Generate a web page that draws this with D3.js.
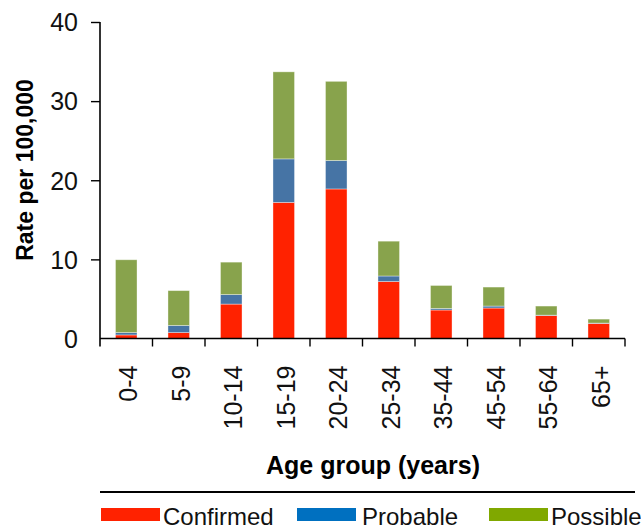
<!DOCTYPE html>
<html>
<head>
<meta charset="utf-8">
<script src="https://cdn.jsdelivr.net/npm/d3@7"></script>
<style>
  body { margin: 0; background: #fff; }
  svg { display: block; font-family: "Liberation Sans", Arial, sans-serif; }
</style>
</head>
<body>
<svg id="chart" width="641" height="531"></svg>
<script>
// ---- data ----
const ageGroups = ['0-4', '5-9', '10-14', '15-19', '20-24', '25-34', '35-44', '45-54', '55-64', '65+'];
const confirmed = [0.45, 0.75, 4.35, 17.2, 18.9, 7.2, 3.6, 3.85, 2.9, 1.9];
const probable  = [0.3, 0.9, 1.2, 5.5, 3.6, 0.7, 0.2, 0.25, 0.05, 0.05];
const possible  = [9.2, 4.4, 4.1, 11.0, 10.0, 4.4, 2.9, 2.4, 1.15, 0.5];
const yTicks = [0, 10, 20, 30, 40];
const seriesNames = ['Confirmed', 'Probable', 'Possible'];
const barColors = ['#ff2200', '#4674a5', '#88a34c'];
const legendColors = ['#ff2200', '#0070c0', '#80a800'];

const rows = ageGroups.map((g, i) => ({
  group: g, Confirmed: confirmed[i], Probable: probable[i], Possible: possible[i]
}));

const svg = d3.select('#chart');

const x = d3.scaleBand()
    .domain(ageGroups)
    .range([100, 625])
    .padding(0);

const y = d3.scaleLinear()
    .domain([0, 40])
    .range([338.5, 22]);

const barW = x.bandwidth() * 0.41;

const stack = d3.stack().keys(seriesNames);
const layers = stack(rows);

svg.append('g')
  .selectAll('g')
  .data(layers)
  .enter().append('g')
    .attr('fill', (d, i) => barColors[i])
  .selectAll('rect')
  .data(d => d)
  .enter().append('rect')
    .attr('x', d => x(d.data.group) + (x.bandwidth() - barW) / 2)
    .attr('y', d => y(d[1]))
    .attr('width', barW)
    .attr('height', d => y(d[0]) - y(d[1]))
    .attr('stroke', 'rgba(255,255,255,0.45)')
    .attr('stroke-width', 0.8);

// y axis
const axisY = svg.append('g')
    .attr('transform', 'translate(100,0)')
    .call(d3.axisLeft(y).tickValues(yTicks).tickSize(9).tickPadding(13).tickSizeOuter(0));
axisY.select('.domain').attr('stroke', '#000').attr('stroke-width', 1.6)
    .attr('d', `M0,${y(40)}V${y(0) + 8}`);
axisY.selectAll('.tick line').attr('stroke', '#000').attr('stroke-width', 1.4);
axisY.selectAll('.tick').filter(d => d === 0).select('line').remove();
axisY.selectAll('.tick text')
    .attr('font-size', 25)
    .attr('fill', '#111')
    .attr('dy', '0.35em');

// x axis
const axisX = svg.append('g')
    .attr('transform', `translate(0,${y(0)})`);
axisX.append('path')
    .attr('d', `M100,0H625`)
    .attr('stroke', '#000')
    .attr('stroke-width', 1.6);
const bounds = ageGroups.map(g => x(g)).concat([x.range()[1]]);
axisX.selectAll('.xtick')
  .data(bounds.slice(1))
  .enter().append('line')
    .attr('class', 'xtick')
    .attr('x1', d => d).attr('x2', d => d)
    .attr('y1', 0).attr('y2', 8)
    .attr('stroke', '#000')
    .attr('stroke-width', 1.4);
axisX.selectAll('.xlab')
  .data(ageGroups)
  .enter().append('text')
    .attr('class', 'xlab')
    .attr('transform', d => `translate(${x(d) + x.bandwidth() / 2 + 2},27) rotate(-90)`)
    .attr('text-anchor', 'end')
    .attr('dy', '0.35em')
    .attr('font-size', 25)
    .attr('fill', '#111')
    .text(d => d);

// axis titles
svg.append('text')
    .attr('transform', 'translate(33,170) rotate(-90)')
    .attr('text-anchor', 'middle')
    .attr('font-size', 23)
    .attr('font-weight', 'bold')
    .text('Rate per 100,000');

svg.append('text')
    .attr('x', 373)
    .attr('y', 474)
    .attr('text-anchor', 'middle')
    .attr('font-size', 25)
    .attr('font-weight', 'bold')
    .text('Age group (years)');

// legend
svg.append('line')
    .attr('x1', 100).attr('x2', 635)
    .attr('y1', 492).attr('y2', 492)
    .attr('stroke', '#000')
    .attr('stroke-width', 2);

const legendX = [101, 297, 489];
const leg = svg.selectAll('.leg')
  .data(seriesNames)
  .enter().append('g')
    .attr('class', 'leg')
    .attr('transform', (d, i) => `translate(${legendX[i]},508)`);
leg.append('rect')
    .attr('width', 59)
    .attr('height', 13)
    .attr('fill', (d, i) => legendColors[i]);
leg.append('text')
    .attr('x', (d, i) => i === 1 ? 65 : 62)
    .attr('y', 17)
    .attr('font-size', 24)
    .attr('fill', '#111')
    .text(d => d);
</script>
</body>
</html>
